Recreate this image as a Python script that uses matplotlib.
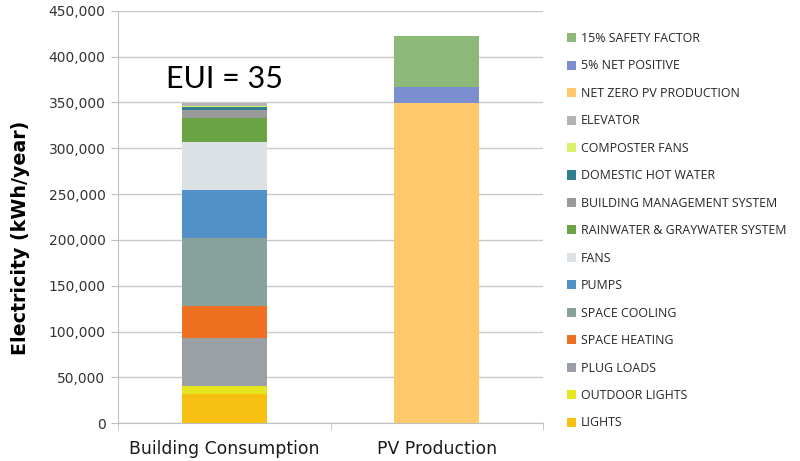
import matplotlib
matplotlib.use("Agg")
import matplotlib.pyplot as plt
from matplotlib.patches import Patch
from matplotlib.ticker import FuncFormatter, MultipleLocator

categories = ["Building Consumption", "PV Production"]

consumption_labels = ["LIGHTS", "OUTDOOR LIGHTS", "PLUG LOADS", "SPACE HEATING", "SPACE COOLING",
                      "PUMPS", "FANS", "RAINWATER & GRAYWATER SYSTEM", "BUILDING MANAGEMENT SYSTEM",
                      "DOMESTIC HOT WATER", "COMPOSTER FANS", "ELEVATOR"]
consumption_values = [32000, 8700, 52000, 35600, 73400, 52700, 52700, 26000, 8500, 3500, 800, 3100]
consumption_colors = ["#F9C014", "#E6E61E", "#9BA0A6", "#F07022", "#87A29C", "#5290C8", "#DCE1E6",
                      "#6AA344", "#9A9A9A", "#2F7F8F", "#DDF06A", "#B3B3B3"]

pv_labels = ["NET ZERO PV PRODUCTION", "5% NET POSITIVE", "15% SAFETY FACTOR"]
pv_values = [349000, 17400, 56000]
pv_colors = ["#FFC86A", "#7A8ED0", "#8CB878"]

annotation = "EUI = 35"

fig = plt.figure(figsize=(8, 4.61), dpi=100)
ax = fig.add_axes([118/800, 1-423.3/461, (543-118)/800, (423.3-10.7)/461])

width = 0.4
bottom = 0
for lab, v, c in zip(consumption_labels, consumption_values, consumption_colors):
    ax.bar(0, v, width, bottom=bottom, color=c, zorder=3)
    bottom += v
bottom_pv = 0
for lab, v, c in zip(pv_labels, pv_values, pv_colors):
    ax.bar(1, v, width, bottom=bottom_pv, color=c, zorder=3)
    bottom_pv += v

ax.text(0, 375000, annotation, ha="center", va="center", fontsize=22, family="Lato", color="black")

ax.set_xlim(-0.5, 1.5)
ax.set_ylim(0, 450000)
ax.yaxis.set_major_locator(MultipleLocator(50000))
ax.yaxis.set_major_formatter(FuncFormatter(lambda v, p: f"{int(v):,}"))
ax.grid(axis="y", color="#C8C8C8", linewidth=1, zorder=0)
ax.set_xticks([0, 1])
ax.set_xticklabels(categories, fontsize=12.4, color="#1a1a1a")
ax.set_xticks([-0.5, 0.5, 1.5], minor=True)
ax.tick_params(axis="x", which="major", length=0, pad=12)
ax.tick_params(axis="x", which="minor", length=5, color="#BFBFBF", direction="out")
ax.tick_params(axis="y", length=5, color="#BFBFBF", labelsize=10, labelcolor="#333333", pad=4)
for s in ["top", "right"]:
    ax.spines[s].set_visible(False)
for s in ["left", "bottom"]:
    ax.spines[s].set_color("#BFBFBF")
ax.set_ylabel("Electricity (kWh/year)", fontsize=13.7, fontweight="bold")
ax.yaxis.set_label_coords(-0.207, 0.449)

all_labels = consumption_labels + pv_labels
all_colors = consumption_colors + pv_colors
handles = [Patch(facecolor=c, edgecolor="none", label=l) for l, c in zip(all_labels, all_colors)]
handles = handles[::-1]
leg = fig.legend(handles=handles, loc="upper left", bbox_to_anchor=(567/800, 1-32/461),
                 frameon=False, prop={"family": "Open Sans", "size": 8.9},
                 handlelength=0.75, handleheight=0.75, handletextpad=0.4,
                 labelspacing=1.17, borderpad=0, borderaxespad=0)
for t in leg.get_texts():
    t.set_color("#262626")

fig.savefig("out.png", dpi=100)
